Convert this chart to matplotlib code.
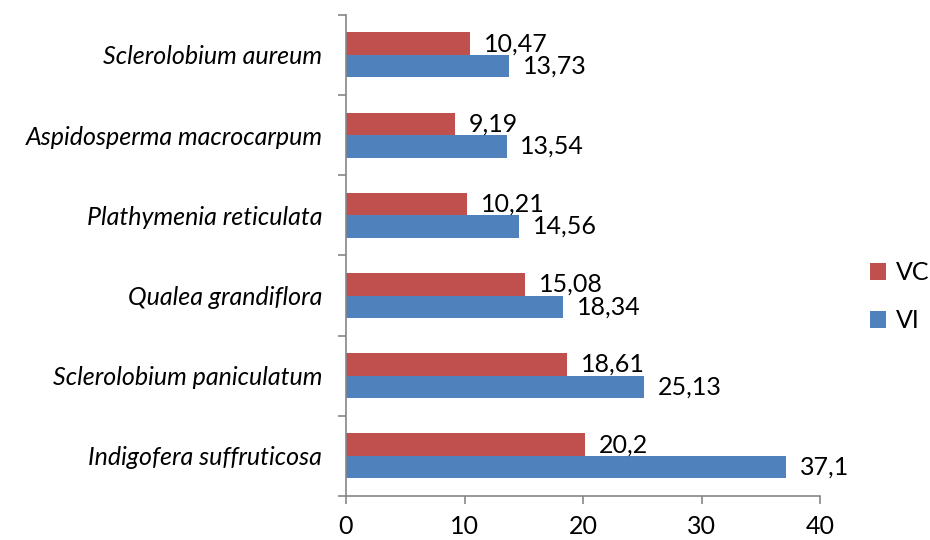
import matplotlib.pyplot as plt
import numpy as np

# Data (bottom to top, as drawn)
species = ["Indigofera suffruticosa", "Sclerolobium paniculatum", "Qualea grandiflora",
           "Plathymenia reticulata", "Aspidosperma macrocarpum", "Sclerolobium aureum"]
vc = [20.2, 18.61, 15.08, 10.21, 9.19, 10.47]
vi = [37.1, 25.13, 18.34, 14.56, 13.54, 13.73]

RED = "#C0504D"
BLUE = "#4F81BD"
AXIS = "#868686"
FS = 18

plt.rcParams['font.family'] = ['Lato', 'DejaVu Sans']

fig = plt.figure(figsize=(9.3, 5.4), dpi=100)
ax = fig.add_axes([0.372, 0.0815, 0.510, 0.891])

y = np.arange(len(species))
h = 0.28
b_vi = ax.barh(y - h / 2, vi, height=h, color=BLUE, label="VI")
b_vc = ax.barh(y + h / 2, vc, height=h, color=RED, label="VC")

def fmt(v):
    return ("%g" % v).replace(".", ",")

for bars, vals in [(b_vc, vc), (b_vi, vi)]:
    for bar, v in zip(bars, vals):
        ax.annotate(fmt(v), (bar.get_width(), bar.get_y() + bar.get_height() / 2),
                    xytext=(10, 0), textcoords="offset points", va="center", ha="left",
                    fontsize=FS)

ax.set_xlim(0, 40)
ax.set_ylim(-0.5, len(species) - 0.5)
ax.set_xticks([0, 10, 20, 30, 40])
ax.set_yticks(y)
ax.set_yticklabels(species, style="italic", fontsize=FS)
ax.set_yticks(np.arange(-0.5, len(species)), minor=True)
ax.tick_params(axis="y", which="major", length=0, pad=17)
ax.tick_params(axis="y", which="minor", length=6, color=AXIS, width=1.2)
ax.tick_params(axis="x", length=6, color=AXIS, width=1.2, labelsize=FS, pad=8)

for s in ["top", "right"]:
    ax.spines[s].set_visible(False)
for s in ["left", "bottom"]:
    ax.spines[s].set_color(AXIS)
    ax.spines[s].set_linewidth(1.2)

fig.legend([b_vc, b_vi], ["VC", "VI"], loc="center left", bbox_to_anchor=(0.935, 0.45),
           frameon=False, fontsize=FS, handlelength=0.65, handleheight=0.65,
           labelspacing=1.0, handletextpad=0.4, borderpad=0, borderaxespad=0)

fig.savefig("out.png", dpi=100)
